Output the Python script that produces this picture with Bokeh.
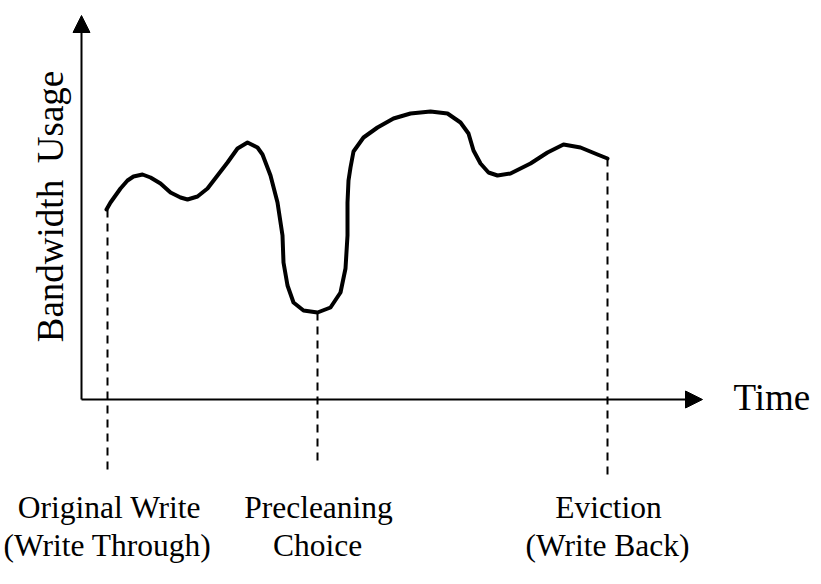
import math
from bokeh.plotting import figure
from bokeh.models import Range1d, Arrow, NormalHead
from bokeh.core.properties import value
from bokeh.embed import file_html
from bokeh.resources import INLINE

# Curve (time, bandwidth) in chart units, origin at the axes corner
curve_t = [25, 29, 39, 46, 52, 61, 69, 79, 89, 99,
           106, 116, 126, 136, 146, 156, 166, 176, 181, 189,
           196, 201, 202, 206, 212, 222, 236, 249, 259, 264,
           266, 266, 267, 269, 272, 282, 296, 312, 329, 349,
           366, 379, 387, 392, 399, 407, 416, 429, 449, 466,
           482, 499, 516, 526]
curve_b = [190, 197, 211, 219, 223, 225, 222, 216, 207, 202,
           200, 203, 211, 224, 237, 251, 257, 252, 245, 224,
           197, 164, 137, 114, 97, 89, 87, 92, 107, 131,
           164, 197, 219, 232, 248, 262, 272, 281, 286, 288,
           286, 277, 266, 249, 236, 227, 224, 226, 236, 247,
           255, 252, 245, 241]

# Event markers (dashed drop lines)
mark_t = [26, 236, 526]
mark_top = [190, 87, 241]
mark_bottom = [-71, -63, -77]
label_line1 = ["Original Write", "Precleaning", "Eviction"]
label_line2 = ["(Write Through)", "Choice", "(Write Back)"]
label_t1 = [28, 237, 527]
label_t2 = [26, 236, 526]

x_title = "Time"
y_title = "Bandwidth\u2009 Usage"
t_axis_end = 621
b_axis_end = 384

FONT = "Liberation Serif"

p = figure(width=813, height=576, output_backend="svg", toolbar_location=None,
           x_range=Range1d(-81, 732), y_range=Range1d(-177, 399),
           min_border=0, outline_line_color=None)
p.axis.visible = False
p.grid.visible = False
p.background_fill_color = "white"
p.border_fill_color = "white"

# axes with arrowheads
p.add_layout(Arrow(x_start=0, y_start=0, x_end=t_axis_end, y_end=0, line_width=2,
                   line_color="black",
                   end=NormalHead(size=17, fill_color="black", line_color="black")))
p.add_layout(Arrow(x_start=0, y_start=0, x_end=0, y_end=b_axis_end, line_width=2,
                   line_color="black",
                   end=NormalHead(size=17, fill_color="black", line_color="black")))

# dashed drop lines
p.segment(x0=mark_t, y0=mark_top, x1=mark_t, y1=mark_bottom, line_color="black",
          line_width=2, line_dash="8 6")

# curve
p.line(curve_t, curve_b, line_color="black", line_width=4, line_join="round",
       line_cap="round")

# labels
p.text(x=label_t1, y=[-108] * 3, text=label_line1, text_align="center",
       text_baseline="alphabetic", text_font=value(FONT), text_font_size="31.5px",
       text_color="black")
p.text(x=label_t2, y=[-146] * 3, text=label_line2, text_align="center",
       text_baseline="alphabetic", text_font=value(FONT), text_font_size="31.5px",
       text_color="black")

p.text(x=[652], y=[2], text=[x_title], text_align="left", text_baseline="alphabetic",
       text_font=value(FONT), text_font_size="37px", text_color="black")
p.text(x=[-31], y=[193], text=[y_title], angle=math.pi / 2, text_align="center",
       text_baseline="alphabetic", text_font=value(FONT), text_font_size="37px",
       text_color="black")

open("out.html", "w").write(file_html(p, INLINE))
